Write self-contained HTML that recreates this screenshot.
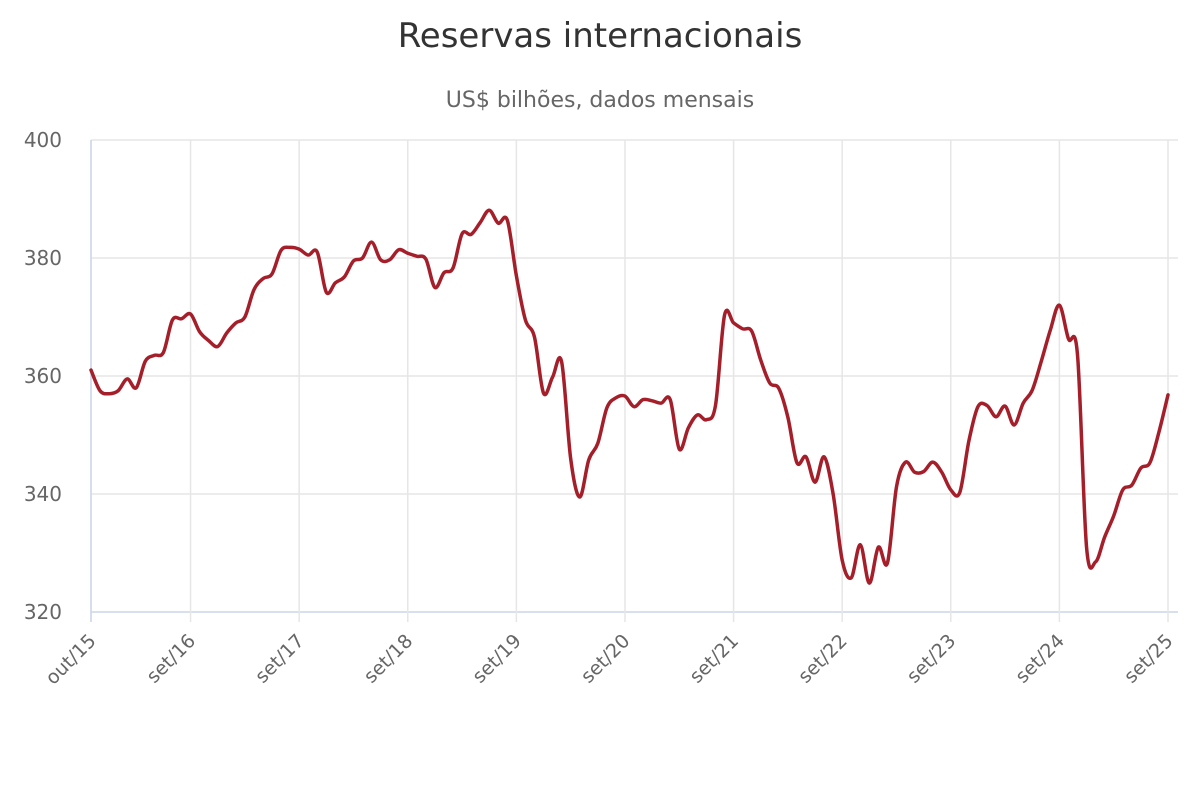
<!DOCTYPE html>
<html><head><meta charset="utf-8"><style>
body{margin:0;background:#fff;}
svg{font-family:"DejaVu Sans","Liberation Sans",sans-serif;}
</style></head><body>
<svg id="chart" width="1200" height="800">
<text x="600" y="47" text-anchor="middle" font-size="34" fill="#333">Reservas internacionais</text>
<text x="600" y="107" text-anchor="middle" font-size="22" fill="#666">US$ bilhões, dados mensais</text>
<g id="grid"></g><g id="axes"></g><g id="series"></g>
</svg>
<script>
const values=[361,357.5,357,357.5,359.5,358,362.5,363.5,364,369.5,369.7,370.5,367.5,366,365,367.3,369,370,374.6,376.5,377.3,381.3,381.8,381.5,380.5,381,374.2,375.8,376.8,379.5,380,382.7,379.7,379.7,381.4,380.8,380.3,379.8,375,377.5,378.3,384.1,384,386,388.1,385.9,386.4,377,369.5,366.6,357.1,359.8,362.4,346,339.5,345.8,348.6,354.6,356.3,356.6,354.8,356,355.8,355.4,356,347.6,351.2,353.4,352.6,355,370.3,369,368,367.6,362.7,358.8,357.9,353,345.3,346.3,342,346.3,340,328.8,325.8,331.4,324.9,331,328.3,341.2,345.4,343.7,343.8,345.4,343.7,340.7,340.3,349,354.8,355,353.1,354.9,351.7,355.4,357.6,362.5,367.8,372,366.3,363.6,331,328.5,332.7,336.3,340.7,341.5,344.4,345.3,350.5,356.8];
const tickIdx=[0,11,23,35,47,59,71,83,95,107,119];
const tickLabels=["out/15","set/16","set/17","set/18","set/19","set/20","set/21","set/22","set/23","set/24","set/25"];
const yTicks=[320,340,360,380,400];
const NS="http://www.w3.org/2000/svg";
const X0=91,X1=1168,Y0=612,Y1=140,YMIN=320,YMAX=400;
const xs=i=>X0+(X1-X0)*i/(values.length-1);
const ys=v=>Y0-(v-YMIN)/(YMAX-YMIN)*(Y0-Y1);
function mk(tag,attrs,parent){const e=document.createElementNS(NS,tag);for(const k in attrs)e.setAttribute(k,attrs[k]);parent.appendChild(e);return e;}
const grid=document.getElementById('grid'),axes=document.getElementById('axes'),series=document.getElementById('series');
yTicks.forEach(v=>{
 const l=mk('line',{x1:X0,x2:1178,y1:ys(v),y2:ys(v),stroke:v===YMIN?'#ccd6eb':'#e6e6e6','stroke-width':1.5},grid);
 
 
 const t=mk('text',{x:62,y:ys(v)+7,'text-anchor':'end','font-size':20,fill:'#666'},axes);
 t.textContent=v;
 
 
});
tickIdx.forEach((idx,k)=>{
 const x=xs(idx);
 const l=mk('line',{x1:x,x2:x,y1:Y1,y2:Y0+10,stroke:'#e6e6e6','stroke-width':1.5},grid);
 
 
 const t=mk('text',{x:x+6,y:Y0+30,'text-anchor':'end','font-size':19,fill:'#666',transform:`rotate(-45 ${x+6} ${Y0+30})`},axes);
 t.textContent=tickLabels[k];
 
 
});
const ax=mk('line',{x1:X0,x2:X0,y1:Y1,y2:Y0+10,stroke:'#ccd6eb','stroke-width':1.5},axes);


const pts=values.map((v,i)=>[xs(i),ys(v)]);
let d=`M${pts[0][0]},${pts[0][1]}`;
for(let i=0;i<pts.length-1;i++){
 const p0=pts[Math.max(0,i-1)],p1=pts[i],p2=pts[i+1],p3=pts[Math.min(pts.length-1,i+2)];
 const s=1/6;
 d+=` C${p1[0]+(p2[0]-p0[0])*s},${p1[1]+(p2[1]-p0[1])*s} ${p2[0]-(p3[0]-p1[0])*s},${p2[1]-(p3[1]-p1[1])*s} ${p2[0]},${p2[1]}`;
}
const path=mk('path',{d:d,fill:'none',stroke:'#a51f2b','stroke-width':3.5,'stroke-linejoin':'round','stroke-linecap':'round'},series);


</script>
</body></html>
